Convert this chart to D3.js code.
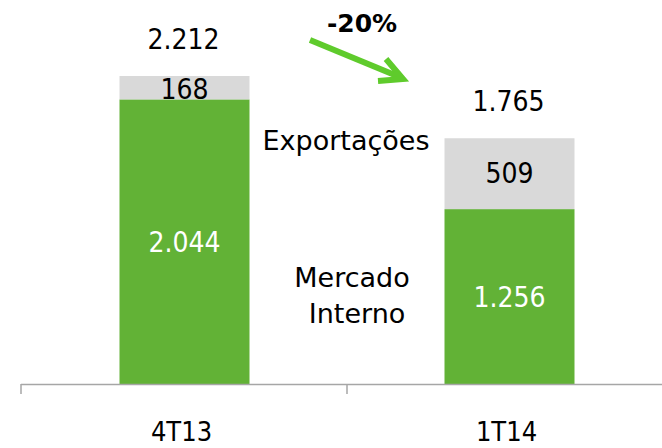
<!DOCTYPE html>
<html>
<head>
<meta charset="utf-8">
<script src="https://cdn.jsdelivr.net/npm/d3@7"></script>
<style>
  body { margin: 0; background: #fff; }
  svg text { font-family: "DejaVu Sans", Verdana, sans-serif; }
  svg text.num { font-family: "DejaVu Sans Condensed", "DejaVu Sans", sans-serif; font-stretch: condensed; }
</style>
</head>
<body>
<div id="chart"></div>
<script>
// Data
let periods = ["4T13", "1T14"];
let mercadoInterno = [2044, 1256];
let exportacoes = [168, 509];
let totals = ["2.212", "1.765"];
let internoLabels = ["2.044", "1.256"];
let exportLabels = ["168", "509"];
let changeLabel = "-20%";

let width = 662;
let height = 448;
let green = "#62b236";
let grey = "#d9d9d9";

let svg = d3.select("#chart")
    .append("svg")
    .attr("width", width)
    .attr("height", height);

let x = d3.scaleBand()
    .domain(periods)
    .range([22, 672])
    .paddingInner(0.6)
    .paddingOuter(0.3);

let y = d3.scaleLinear()
    .domain([0, 2212])
    .range([384, 76]);

// stacked layout
let rows = periods.map((p, i) => ({ period: p, interno: mercadoInterno[i], export: exportacoes[i] }));
let stacked = d3.stack().keys(["interno", "export"])(rows);
let colors = { interno: green, export: grey };

svg.append("g")
    .selectAll("g")
    .data(stacked)
    .join("g")
    .attr("fill", (s) => colors[s.key])
    .selectAll("rect")
    .data((s) => s)
    .join("rect")
    .attr("x", (d) => x(d.data.period))
    .attr("width", x.bandwidth())
    .attr("y", (d) => y(d[1]))
    .attr("height", (d) => y(d[0]) - y(d[1]));

// axis line with tick marks at category boundaries
let axis = svg.append("g").attr("stroke", "#a6a6a6").attr("stroke-width", 1.5);
axis.append("line").attr("x1", 21).attr("x2", width).attr("y1", 384.5).attr("y2", 384.5);
let boundaries = [x.range()[0] - 1, x(periods[1]) - x.step() * x.paddingInner() / 2];
axis.selectAll(".tk")
    .data(boundaries)
    .join("line")
    .attr("x1", (d) => d).attr("x2", (d) => d)
    .attr("y1", 384).attr("y2", 394);

let cx = (d) => x(d) + x.bandwidth() / 2;

// category labels
svg.selectAll(".cat")
    .data(periods)
    .join("text")
    .attr("class", "num")
    .attr("x", (d) => cx(d) - 3)
    .attr("y", 441)
    .attr("text-anchor", "middle")
    .style("font-size", "27px")
    .attr("fill", "#000")
    .text((d) => d);

// total labels
svg.selectAll(".tot")
    .data(periods)
    .join("text")
    .attr("class", "num")
    .attr("x", (d) => cx(d) - 1)
    .attr("y", (d, i) => y(mercadoInterno[i] + exportacoes[i]) - 27)
    .attr("text-anchor", "middle")
    .style("font-size", "28px")
    .attr("fill", "#000")
    .text((d, i) => totals[i]);

// export segment labels
svg.selectAll(".exp")
    .data(periods)
    .join("text")
    .attr("class", "num")
    .attr("x", (d) => cx(d))
    .attr("y", (d, i) => i === 0 ? y(mercadoInterno[i]) + 0 : y(mercadoInterno[i] + exportacoes[i] / 2) + 9)
    .attr("text-anchor", "middle")
    .style("font-size", "28px")
    .attr("fill", "#000")
    .text((d, i) => exportLabels[i]);

// mercado interno labels
svg.selectAll(".int")
    .data(periods)
    .join("text")
    .attr("class", "num")
    .attr("x", (d) => cx(d))
    .attr("y", (d, i) => i === 0 ? 252 : 307)
    .attr("text-anchor", "middle")
    .style("font-size", "28px")
    .attr("fill", "#fff")
    .text((d, i) => internoLabels[i]);

// series annotations
svg.append("text")
    .attr("x", 346).attr("y", 150)
    .attr("text-anchor", "middle")
    .style("font-size", "27px")
    .text("Exportações");

let mi = svg.append("text")
    .attr("x", 352).attr("y", 287)
    .attr("text-anchor", "middle")
    .style("font-size", "27px");
mi.append("tspan").attr("x", 352).text("Mercado");
mi.append("tspan").attr("x", 357).attr("dy", 36).text("Interno");

// change arrow
svg.append("text")
    .attr("x", 362).attr("y", 32)
    .attr("text-anchor", "middle")
    .style("font-size", "25px")
    .style("font-weight", "bold")
    .text(changeLabel);

let arrow = svg.append("g")
    .attr("stroke", "#5fcb2c")
    .attr("stroke-width", 6)
    .attr("fill", "none")
    .attr("stroke-linecap", "butt")
    .attr("stroke-linejoin", "miter");
arrow.append("line").attr("x1", 310).attr("y1", 40).attr("x2", 402).attr("y2", 78);
arrow.append("path").attr("d", "M386,59 L403,79 L378,81");
</script>
</body>
</html>
